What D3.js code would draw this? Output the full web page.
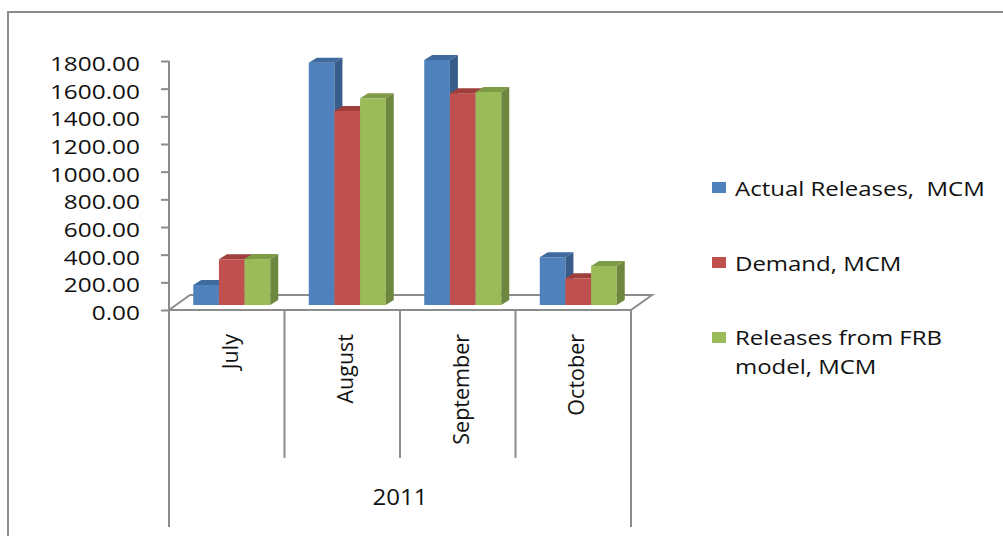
<!DOCTYPE html>
<html><head><meta charset="utf-8">
<script src="https://cdn.jsdelivr.net/npm/d3@7"></script>
<style>
html,body{margin:0;padding:0;background:#fff;}
svg{display:block;}
text{font-family:"Open Sans",sans-serif;fill:#111;white-space:pre;}
</style></head>
<body>
<script>
const months = ["July", "August", "September", "October"];
const groupLabel = "2011";
const seriesNames = ["Actual Releases,  MCM", "Demand, MCM", "Releases from FRB model, MCM"];
const actualReleases = [145, 1752, 1771, 345];
const demand = [330, 1403, 1531, 193];
const frbReleases = [332, 1494, 1540, 282];
const yTicks = [0, 200, 400, 600, 800, 1000, 1200, 1400, 1600, 1800];

const series = [actualReleases, demand, frbReleases];
const colors = [
  {front:"#4F81BD", top:"#3F6A9E", side:"#385D8A"},
  {front:"#C0504D", top:"#9E3F3C", side:"#8C3836"},
  {front:"#9BBB59", top:"#7E9C45", side:"#6E873F"}
];

const W = 1003, H = 536;
const svg = d3.select("body").append("svg").attr("width", W).attr("height", H);
const grey = "#8c8c8c";

// outer border (top and left visible)
svg.append("path").attr("d", "M8,536 L8,12 L1003,12").attr("fill","none").attr("stroke",grey).attr("stroke-width",2);

const x0 = d3.scaleBand().domain(months).range([169, 631]);
const y = d3.scaleLinear().domain([0, 1800]).range([310, 61]);
const depthX = 21, depthY = -15;   // floor depth
const barShiftX = 5, barShiftY = -5; // bars sit slightly back
const bx = 8, by = -5;              // bar depth

// floor
const floor = svg.append("g").attr("fill","none").attr("stroke",grey).attr("stroke-width",2);
const fx0 = x0.range()[0], fx1 = x0.range()[1], fy = y(0);
floor.append("path").attr("d", `M${fx0},${fy} L${fx0+depthX},${fy+depthY} L${fx1+depthX},${fy+depthY} L${fx1},${fy} Z`);

// y axis
const yAxis = d3.axisLeft(y).tickValues(yTicks).tickSize(8).tickFormat(d3.format(".2f"));
const ya = svg.append("g").attr("transform", `translate(${fx0},0)`).call(yAxis);
ya.select(".domain").attr("stroke", grey).attr("stroke-width", 2).attr("d", `M0,${y(1800)}V${y(0)}`);
ya.selectAll(".tick line").attr("stroke", grey).attr("stroke-width", 2);
ya.selectAll(".tick text").attr("x", 0).attr("dy", null)
  .style("font-family", '"Open Sans",sans-serif').style("font-size","20px").attr("fill","#111")
  .attr("text-anchor","end")
  .attr("transform", "translate(-29,9.5) scale(1.22,1)");

// category dividers
const div = svg.append("g").attr("stroke", grey).attr("stroke-width", 2);
months.forEach((m, i) => {
  div.append("line").attr("x1", x0(m)).attr("x2", x0(m)).attr("y1", fy).attr("y2", i === 0 ? 527 : 458);
});
div.append("line").attr("x1", fx1).attr("x2", fx1).attr("y1", fy).attr("y2", 527);

// category labels
months.forEach(m => {
  const cx = x0(m) + x0.bandwidth()/2 + 3;
  svg.append("text").attr("transform", `translate(${cx},334) rotate(-90)`)
    .attr("text-anchor","end").attr("dy","0.36em").style("font-size","21.5px").text(m);
});
svg.append("text").attr("transform", `translate(${(fx0+fx1)/2},505) scale(1.12,1)`).attr("text-anchor","middle").style("font-size","21.5px").text(groupLabel);

// bars
const x1 = d3.scaleBand().domain(d3.range(series.length)).range([0, 77]);
const bars = svg.append("g");
months.forEach((m, i) => {
  const gx = x0(m) + (x0.bandwidth() - 77)/2 + barShiftX;
  series.forEach((s, k) => {
    const xl = gx + x1(k), xr = xl + x1.bandwidth();
    const yt = y(s[i]) + barShiftY, yb = y(0) + barShiftY;
    const c = colors[k];
    bars.append("rect").attr("x", xl).attr("y", yt).attr("width", xr - xl).attr("height", yb - yt).attr("fill", c.front);
    bars.append("path").attr("d", `M${xl},${yt} L${xl+bx},${yt+by} L${xr+bx},${yt+by} L${xr},${yt} Z`).attr("fill", c.top);
    bars.append("path").attr("d", `M${xr},${yt} L${xr+bx},${yt+by} L${xr+bx},${yb+by} L${xr},${yb} Z`).attr("fill", c.side);
  });
});

// legend
const lg = svg.append("g");
const legendY = [188, 263, 338];
seriesNames.forEach((n, k) => {
  lg.append("rect").attr("x", 712).attr("y", legendY[k]-6).attr("width", 14).attr("height", 11).attr("fill", colors[k].front);
});
function legText(str, yy) {
  lg.append("text").attr("transform", `translate(735,${yy}) scale(1.17,1)`).style("font-size","20.5px").text(str);
}
legText("Actual Releases,  MCM", 196);
legText("Demand, MCM", 271);
legText("Releases from FRB", 345);
legText("model, MCM", 374);
</script>
</body></html>
